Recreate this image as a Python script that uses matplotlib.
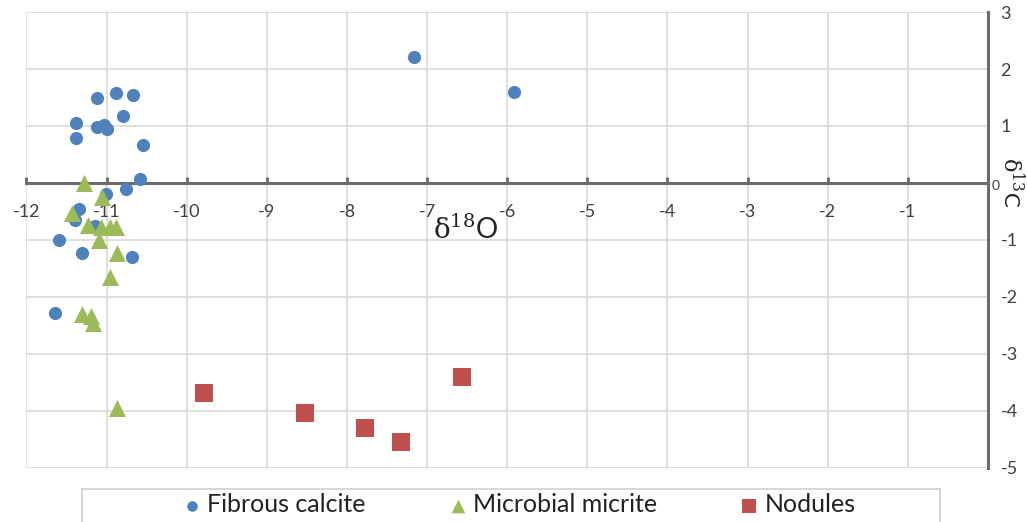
# Carbon vs oxygen stable isotope cross-plot (delta 13C vs delta 18O)
import matplotlib
matplotlib.use('Agg')
import matplotlib.pyplot as plt
from matplotlib.patches import Rectangle

plt.rcParams['font.family'] = ['Lato', 'DejaVu Sans']
plt.rcParams['mathtext.fontset'] = 'custom'
plt.rcParams['mathtext.rm'] = 'DejaVu Serif'
plt.rcParams['mathtext.it'] = 'DejaVu Serif'

# Fibrous calcite
fibrous_d18o = [-7.16, -5.92, -11.12, -10.88, -10.67, -10.80, -11.38, -11.38, -11.12, -11.03,
                -11.00, -10.55, -10.58, -10.76, -11.01, -11.35, -11.40, -11.15, -11.59, -11.31,
                -10.68, -11.64]
fibrous_d13c = [2.21, 1.60, 1.49, 1.58, 1.55, 1.18, 1.05, 0.79, 0.98, 1.02,
                0.95, 0.67, 0.07, -0.11, -0.19, -0.46, -0.65, -0.76, -1.00, -1.23,
                -1.30, -2.28]

# Microbial micrite
micrite_d18o = [-11.28, -11.06, -11.43, -11.23, -11.07, -10.96, -10.88, -11.10, -10.87, -10.96,
                -11.31, -11.20, -11.17, -10.87]
micrite_d13c = [0.00, -0.25, -0.53, -0.74, -0.77, -0.77, -0.77, -1.00, -1.23, -1.65,
                -2.30, -2.34, -2.46, -3.94]

# Nodules
nodule_d18o = [-9.79, -8.53, -7.77, -7.32, -6.57]
nodule_d13c = [-3.69, -4.04, -4.29, -4.55, -3.41]

x_ticks = list(range(-12, 1))
y_ticks = list(range(-5, 4))

fig = plt.figure(figsize=(10.27, 5.22), dpi=100)
ax = fig.add_axes([0.0258, 0.1035, 0.9362, 0.8735])

ax.set_xlim(-12, 0)
ax.set_ylim(-5, 3)

# light grid on every integer
ax.set_xticks(x_ticks)
ax.set_yticks(y_ticks)
ax.grid(True, color='#d9d9d9', linewidth=1.2, zorder=0)
ax.set_axisbelow(True)

# axes cross at the origin: x axis at y=0, y axis at x=0 (right edge)
ax.spines['bottom'].set_position(('data', 0))
ax.spines['bottom'].set_color('#6b6b6b')
ax.spines['bottom'].set_linewidth(2.2)
ax.spines['right'].set_position(('data', 0))
ax.spines['right'].set_color('#6b6b6b')
ax.spines['right'].set_linewidth(2.2)
ax.spines['top'].set_visible(False)
ax.spines['left'].set_visible(False)

ax.xaxis.set_ticks_position('bottom')
ax.tick_params(axis='x', direction='in', length=4, width=2, color='#6b6b6b',
               pad=15, labelsize=13, labelcolor='#404040')
ax.set_xticklabels([str(v) if v != 0 else '' for v in x_ticks])

ax.yaxis.set_ticks_position('right')
ax.tick_params(axis='y', length=0, pad=9, labelsize=13, labelcolor='#404040')
ax.set_yticklabels([str(v) if v != 0 else '' for v in y_ticks])
ax.text(0.04, -0.05, '0', fontsize=10, color='#404040', ha='left', va='center')

ax.scatter(fibrous_d18o, fibrous_d13c, marker='o', s=90, color='#4f81bd',
           linewidths=0, label='Fibrous calcite', zorder=3)
ax.scatter(micrite_d18o, micrite_d13c, marker='^', s=150, color='#9bbb59',
           linewidths=0, label='Microbial micrite', zorder=4)
ax.scatter(nodule_d18o, nodule_d13c, marker='s', s=175, color='#c0504d',
           linewidths=0, label='Nodules', zorder=3)

# axis titles
ax.text(-6.52, -0.82, r'$\mathrm{\delta}^{18}$O', fontsize=20, color='#222222',
        ha='center', va='center')
ax.text(0.31, 0.02, r'$\mathrm{\delta}^{13}$C', fontsize=16, color='#222222',
        ha='center', va='center', rotation=270)

# legend box along the bottom edge
fig.patches.append(Rectangle((82 / 1027, -0.02), (940 - 82) / 1027, (522 - 489) / 522 + 0.02,
                             transform=fig.transFigure, facecolor='white',
                             edgecolor='#cfcfcf', linewidth=1.2, zorder=-1))
leg = ax.legend(loc='center', bbox_to_anchor=(0.505, 0.033), bbox_transform=fig.transFigure,
                ncol=3, frameon=False, fontsize=18, handlelength=0.8,
                handletextpad=0.2, columnspacing=3.3, markerscale=0.8)
for t in leg.get_texts():
    t.set_color('#222222')

plt.savefig('out.png', dpi=100)
